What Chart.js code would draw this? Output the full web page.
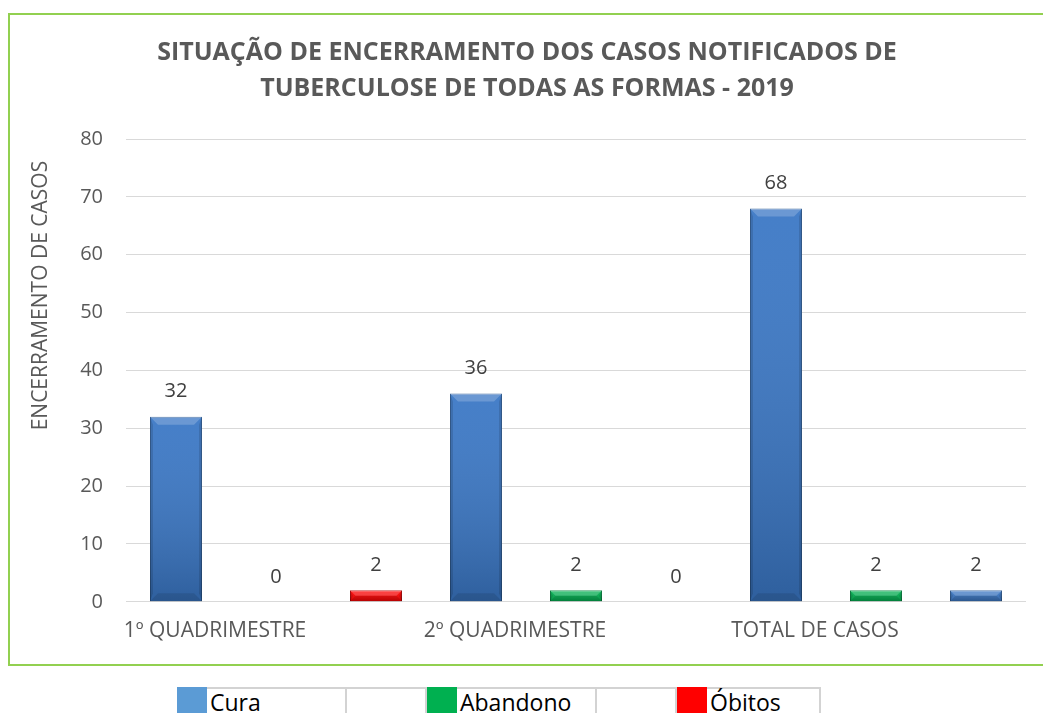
<!DOCTYPE html>
<html>
<head>
<meta charset="utf-8">
<script src="https://cdn.jsdelivr.net/npm/chart.js@4"></script>
<style>
  body { margin: 0; background: #fff; font-family: "Open Sans", sans-serif; }
  #frame {
    position: absolute; left: 8px; top: 13px;
    width: 1035px; height: 649px;
    border: 2px solid #92d050; border-right: none;
  }
  #legend { position: absolute; left: 177px; top: 687px; display: flex; }
  #legend div { height: 30px; box-sizing: border-box; }
  #legend .cell { border: 2px solid #d3d3d3; border-bottom: none; border-left: none; font-size: 23px; line-height: 26px; padding-left: 3px; color: #000; }
</style>
</head>
<body>
<div id="frame"><canvas id="chart" width="1033" height="649"></canvas></div>
<div id="legend"></div>
<script>
// data
const categories = ['1º QUADRIMESTRE', '2º QUADRIMESTRE', 'TOTAL DE CASOS'];
const seriesNames = ['Cura', 'Abandono', 'Óbitos'];
const cura = [32, 36, 68];
const abandono = [0, 2, 2];
const obitos = [2, 0, 2];

const blue = '#3a77c5', green = '#00b050', red = '#ff0000';
const legendColors = ['#5b9bd5', '#00b050', '#ff0000'];
// last Óbitos bar is drawn blue in the original
const obitosColors = [red, red, blue];
const darker = { [blue]: '#2b5a94', [green]: '#00803c', [red]: '#b00000' };

function poly(ctx, pts, fill) {
    ctx.beginPath();
    ctx.moveTo(pts[0][0], pts[0][1]);
    pts.slice(1).forEach(p => ctx.lineTo(p[0], p[1]));
    ctx.closePath();
    ctx.fillStyle = fill;
    ctx.fill();
}

// gives the bars the bevelled Excel look
const bevel = {
    id: 'bevel',
    afterDatasetsDraw(chart) {
        const ctx = chart.ctx;
        ctx.save();
        chart.data.datasets.forEach((ds, i) => {
            chart.getDatasetMeta(i).data.forEach(bar => {
                const l = bar.x - bar.width / 2, r = bar.x + bar.width / 2;
                const t = Math.min(bar.y, bar.base), btm = Math.max(bar.y, bar.base);
                const h = btm - t;
                if (h < 1) return;
                const b = Math.min(8, h / 2);
                const g = ctx.createLinearGradient(0, t, 0, btm);
                g.addColorStop(0, 'rgba(255,255,255,0.06)');
                g.addColorStop(1, 'rgba(0,0,0,0.2)');
                ctx.fillStyle = g;
                ctx.fillRect(l, t, r - l, h);
                poly(ctx, [[l, t], [l + 3, t + b], [l + 3, btm - b], [l, btm]], 'rgba(0,0,0,0.12)');
                poly(ctx, [[r, t], [r - 3, t + b], [r - 3, btm - b], [r, btm]], 'rgba(0,0,0,0.12)');
                poly(ctx, [[l, t], [r, t], [r - b, t + b], [l + b, t + b]], 'rgba(255,255,255,0.2)');
                poly(ctx, [[l, btm], [r, btm], [r - b, btm - b], [l + b, btm - b]], 'rgba(0,0,0,0.1)');
            });
        });
        ctx.restore();
    }
};

const valueLabels = {
    id: 'valueLabels',
    afterDatasetsDraw(chart) {
        const ctx = chart.ctx;
        ctx.save();
        ctx.font = '20px "Open Sans"';
        ctx.fillStyle = '#404040';
        ctx.textAlign = 'center';
        ctx.textBaseline = 'middle';
        chart.data.datasets.forEach((ds, i) => {
            chart.getDatasetMeta(i).data.forEach((bar, j) => {
                ctx.fillText(ds.data[j], bar.x, bar.y - 25);
            });
        });
        ctx.restore();
    }
};

const colorSets = [[blue, blue, blue], [green, green, green], obitosColors];
const values = [cura, abandono, obitos];

new Chart(document.getElementById('chart'), {
    type: 'bar',
    data: {
        labels: categories,
        datasets: seriesNames.map((name, i) => ({
            label: name,
            data: values[i],
            backgroundColor: colorSets[i],
            borderColor: colorSets[i].map(c => darker[c]),
            borderWidth: ctx => ctx.raw ? 1 : 0,
            categoryPercentage: 1,
            barPercentage: 0.52
        }))
    },
    options: {
        responsive: false,
        animation: false,
        layout: { padding: { left: 18, right: 17, top: 0, bottom: 11 } },
        scales: {
            x: {
                grid: { display: false },
                border: { display: false },
                ticks: {
                    color: '#595959',
                    font: { family: 'Open Sans', size: 21 },
                    padding: 9,
                    labelOffset: -61,
                    maxRotation: 0
                }
            },
            y: {
                min: 0,
                max: 80,
                afterFit: scale => { scale.width = 98; },
                grid: { color: '#d9d9d9', drawTicks: false },
                border: { display: false },
                ticks: {
                    stepSize: 10,
                    color: '#595959',
                    font: { family: 'Open Sans', size: 20 },
                    padding: 23
                },
                title: {
                    display: true,
                    text: 'ENCERRAMENTO DE CASOS    ',
                    align: 'end',
                    color: '#595959',
                    font: { family: 'Open Sans', size: 21 },
                    padding: { top: 0, bottom: 0 }
                }
            }
        },
        plugins: {
            legend: { display: false },
            tooltip: { enabled: false },
            title: {
                display: true,
                text: ['SITUAÇÃO DE ENCERRAMENTO DOS CASOS NOTIFICADOS DE', 'TUBERCULOSE DE TODAS AS FORMAS - 2019'],
                color: '#595959',
                font: { family: 'Open Sans', size: 25, weight: 'bold', lineHeight: 1.44 },
                padding: { top: 20, bottom: 32 }
            }
        }
    },
    plugins: [bevel, valueLabels]
});

// table-like legend under the frame
const legend = document.getElementById('legend');
const textWidths = [140, 140, 114];
seriesNames.forEach((name, i) => {
    const sw = document.createElement('div');
    sw.style.width = '30px';
    sw.style.background = legendColors[i];
    legend.appendChild(sw);
    const cell = document.createElement('div');
    cell.className = 'cell';
    cell.style.width = textWidths[i] + 'px';
    cell.textContent = name;
    legend.appendChild(cell);
    if (i < seriesNames.length - 1) {
        const gap = document.createElement('div');
        gap.className = 'cell';
        gap.style.width = '80px';
        legend.appendChild(gap);
    }
});
</script>
</body>
</html>
